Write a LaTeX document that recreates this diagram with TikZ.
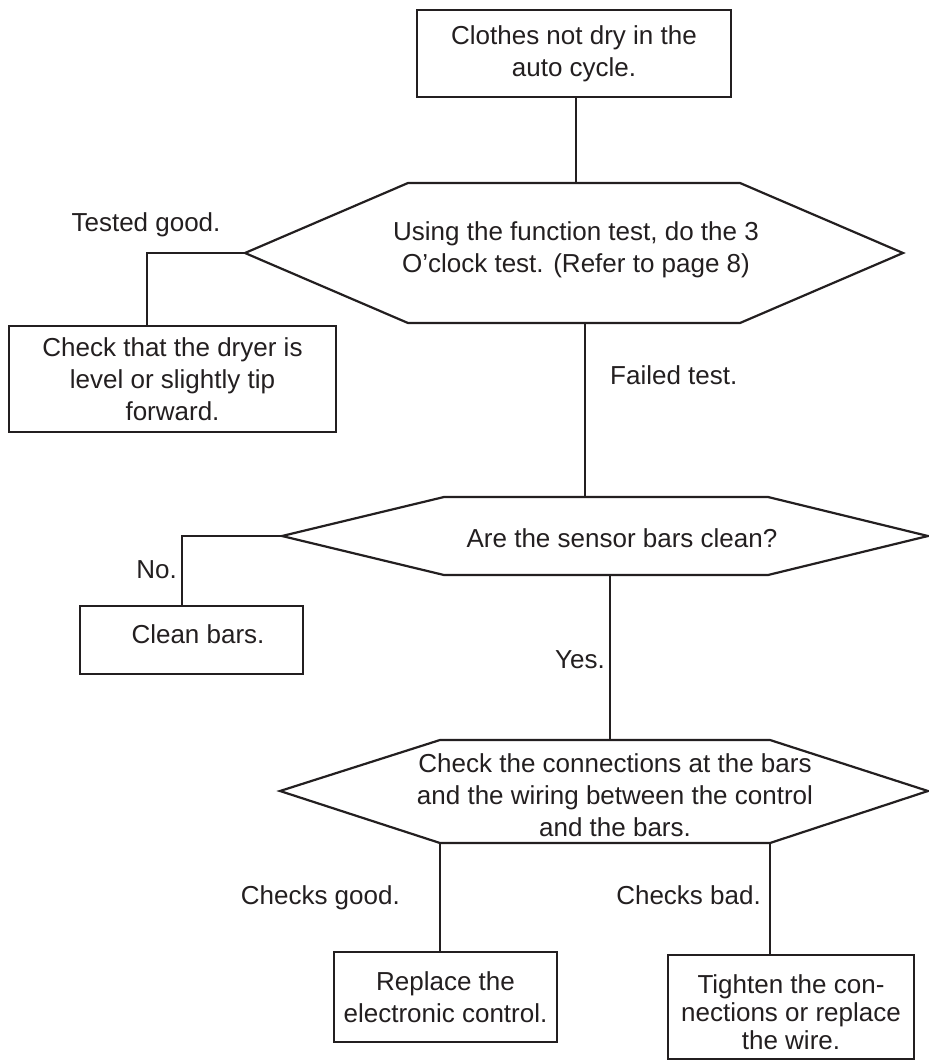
\documentclass[tikz,border=0pt]{standalone}
\usepackage{fontspec}
\setmainfont{Liberation Sans}
\definecolor{ink}{HTML}{231F20}
\begin{document}
\begin{tikzpicture}[x=1pt,y=-1pt,
  every node/.style={font=\fontsize{26}{32}\selectfont, text=ink, inner sep=0pt},
  conn/.style={draw=ink, line width=2pt},
  shapeline/.style={draw=ink, line width=2.2pt, line join=miter},
  boxnode/.style={draw=ink, line width=2.2pt, align=center, inner sep=0pt},
  txt/.style={align=center},
  tighttxt/.style={align=center, font=\fontsize{26}{28}\selectfont},
  lbl/.style={}]
\useasboundingbox (0,0) rectangle (929,1061);
\fill[white] (0,0) rectangle (929,1061);

% top box
\node[boxnode, minimum width=314pt, minimum height=87pt] (top) at (574,53.5)
  {Clothes not dry in the\\auto cycle.};

% hexagon 1
\coordinate (h1L) at (245,253);
\coordinate (h1TL) at (408,183);
\coordinate (h1TR) at (740,183);
\coordinate (h1R) at (903,253);
\coordinate (h1BR) at (740,323);
\coordinate (h1BL) at (408,323);
\draw[shapeline] (h1L) -- (h1TL) -- (h1TR) -- (h1R) -- (h1BR) -- (h1BL) -- cycle;
\node[txt] (h1text) at (576,250) {Using the function test, do the 3\\O'clock test. (Refer to page 8)};

% box 1
\node[boxnode, minimum width=327pt, minimum height=106pt] (b1) at (172.5,379)
  {Check that the dryer is\\level or slightly tip\\forward.};

% hexagon 2
\coordinate (h2L) at (282,536);
\coordinate (h2TL) at (444,497);
\coordinate (h2TR) at (768,497);
\coordinate (h2R) at (928,536);
\coordinate (h2BR) at (768,575);
\coordinate (h2BL) at (444,575);
\draw[shapeline] (h2L) -- (h2TL) -- (h2TR) -- (h2R) -- (h2BR) -- (h2BL) -- cycle;
\node[txt] (h2text) at (622,538) {Are the sensor bars clean?};

% box 2
\node[boxnode, minimum width=223pt, minimum height=68pt] (b2) at (191.5,640) {};
\node[txt] (b2text) at (198,634) {Clean bars.};

% hexagon 3
\coordinate (h3L) at (280,791);
\coordinate (h3TL) at (440,740);
\coordinate (h3TR) at (770,740);
\coordinate (h3R) at (928,791);
\coordinate (h3BR) at (770,843);
\coordinate (h3BL) at (440,843);
\draw[shapeline] (h3L) -- (h3TL) -- (h3TR) -- (h3R) -- (h3BR) -- (h3BL) -- cycle;
\node[txt] (h3text) at (615,795) {Check the connections at the bars\\and the wiring between the control\\and the bars.};

% box 3
\node[boxnode, minimum width=223pt, minimum height=90pt] (b3) at (445.5,997)
  {Replace the\\electronic control.};

% box 4
\node[boxnode, minimum width=246pt, minimum height=104pt] (b4) at (791,1007) {};
\node[tighttxt] (b4text) at (791,1012) {Tighten the con-\\nections or replace\\the wire.};

% connectors
\coordinate (c1) at (147,0);
\coordinate (c2) at (182,0);
\draw[conn] (top.south -| h1text) -- (h1TL -| h1text);
\draw[conn] (h1L) -| (c1 |- b1.north);
\coordinate (h1B) at (585,323);
\coordinate (h2T) at (585,497);
\draw[conn] (h1B) -- (h2T);
\draw[conn] (h2L) -| (c2 |- b2.north);
\coordinate (h2B) at (610,575);
\coordinate (h3T) at (610,740);
\draw[conn] (h2B) -- (h3T);
\draw[conn] (h3BL) -- (h3BL |- b3.north);
\draw[conn] (h3BR) -- (h3BR |- b4.north);

% labels
\node[lbl] (lTested) at (146,225) {Tested good.};
\node[lbl, anchor=west] (lFailed) at (610,375) {Failed test.};
\node[lbl, anchor=east] (lNo) at (177,570) {No.};
\node[lbl, anchor=east] (lYes) at (605,660) {Yes.};
\node[lbl, anchor=base east] (lGood) at (400,904) {Checks good.};
\node[lbl, anchor=base east] (lBad) at (761,904) {Checks bad.};
\end{tikzpicture}
\end{document}
